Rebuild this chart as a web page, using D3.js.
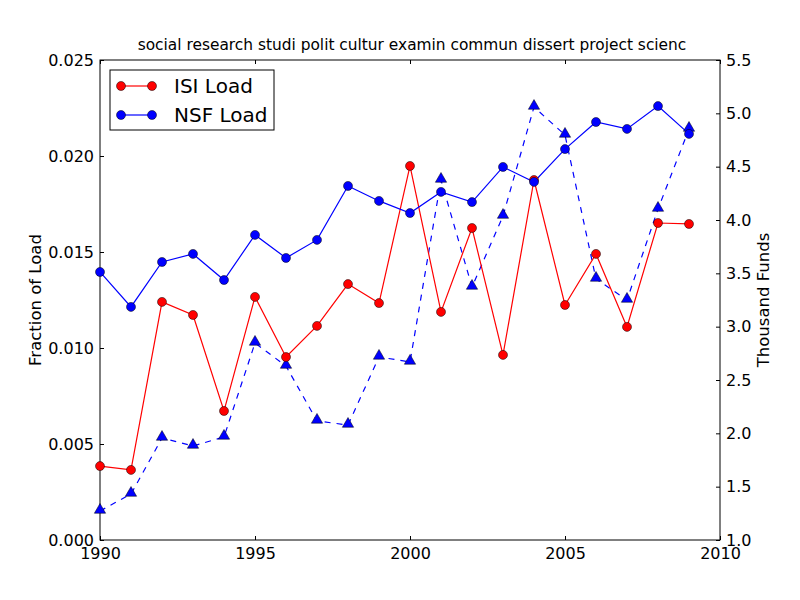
<!DOCTYPE html>
<html>
<head>
<meta charset="utf-8">
<script src="https://cdn.jsdelivr.net/npm/d3@7"></script>
<style>
  body { margin: 0; background: #fff; }
  text { font-family: "DejaVu Sans", sans-serif; }
</style>
</head>
<body>
<svg id="chart" width="800" height="600"></svg>
<script>
const years = d3.range(1990, 2010);
const isiLoad = [0.00385, 0.00365, 0.0124, 0.01172, 0.00672, 0.01266, 0.00953, 0.01115, 0.01333, 0.01234,
                 0.01948, 0.01188, 0.01625, 0.00964, 0.01875, 0.01224, 0.0149, 0.0111, 0.01651, 0.01646];
const nsfLoad = [0.01396, 0.01214, 0.01448, 0.0149, 0.01354, 0.01589, 0.01469, 0.01563, 0.01844, 0.01766,
                 0.01703, 0.01813, 0.0176, 0.01943, 0.01865, 0.02036, 0.02177, 0.02141, 0.0226, 0.02115];
const funds = [1.272, 1.431, 1.956, 1.881, 1.966, 2.847, 2.631, 2.116, 2.078, 2.716,
               2.669, 4.375, 3.372, 4.037, 5.059, 4.797, 3.447, 3.25, 4.103, 4.853];
const xTicks = [1990, 1995, 2000, 2005, 2010];
const leftTicks = [0, 0.005, 0.01, 0.015, 0.02, 0.025];
const rightTicks = [1.0, 1.5, 2.0, 2.5, 3.0, 3.5, 4.0, 4.5, 5.0, 5.5];
const title = "social research studi polit cultur examin commun dissert project scienc";

const m = { left: 100, right: 720, top: 60, bottom: 540 };
const svg = d3.select('#chart');

const x = d3.scaleLinear().domain([1990, 2010]).range([m.left, m.right]);
const yL = d3.scaleLinear().domain([0, 0.025]).range([m.bottom, m.top]);
const yR = d3.scaleLinear().domain([1.0, 5.5]).range([m.bottom, m.top]);

// axes (ticks inward, classic style)
const fontSize = 16;
const axB = svg.append('g').attr('transform', `translate(0,${m.bottom})`)
    .call(d3.axisBottom(x).tickValues(xTicks).tickFormat(d3.format('d')).tickSizeInner(-4).tickSizeOuter(0).tickPadding(8));
const axT = svg.append('g').attr('transform', `translate(0,${m.top})`)
    .call(d3.axisTop(x).tickValues(xTicks).tickFormat('').tickSizeInner(-4).tickSizeOuter(0));
const axL = svg.append('g').attr('transform', `translate(${m.left},0)`)
    .call(d3.axisLeft(yL).tickValues(leftTicks).tickFormat(d3.format('.3f')).tickSizeInner(-4).tickSizeOuter(0).tickPadding(6));
const axR = svg.append('g').attr('transform', `translate(${m.right},0)`)
    .call(d3.axisRight(yR).tickValues(rightTicks).tickFormat(d3.format('.1f')).tickSizeInner(-4).tickSizeOuter(0).tickPadding(6));
[axB, axT, axL, axR].forEach(a => {
    a.select('.domain').remove();
    a.selectAll('text').attr('font-size', fontSize).attr('fill', '#000');
    a.selectAll('line').attr('stroke', '#000');
});

// frame
svg.append('rect').attr('x', m.left).attr('y', m.top)
    .attr('width', m.right - m.left).attr('height', m.bottom - m.top)
    .attr('fill', 'none').attr('stroke', '#000').attr('stroke-width', 1);

// lines
const lineL = vals => d3.line().x((d, i) => x(years[i])).y(d => yL(d))(vals);
const lineR = d3.line().x((d, i) => x(years[i])).y(d => yR(d));

svg.append('path').attr('d', lineR(funds)).attr('fill', 'none')
    .attr('stroke', 'blue').attr('stroke-width', 1.2).attr('stroke-dasharray', '6,6');
svg.append('path').attr('d', lineL(isiLoad)).attr('fill', 'none')
    .attr('stroke', 'red').attr('stroke-width', 1.2);
svg.append('path').attr('d', lineL(nsfLoad)).attr('fill', 'none')
    .attr('stroke', 'blue').attr('stroke-width', 1.2);

const tri = d3.symbol().type(d3.symbolTriangle).size(55);
svg.append('g').selectAll('path').data(funds).join('path')
    .attr('d', tri)
    .attr('transform', (d, i) => `translate(${x(years[i])},${yR(d) - 1})`)
    .attr('fill', 'blue').attr('stroke', '#000').attr('stroke-width', 0.5);

svg.append('g').selectAll('circle').data(isiLoad).join('circle')
    .attr('cx', (d, i) => x(years[i])).attr('cy', d => yL(d)).attr('r', 4.5)
    .attr('fill', 'red').attr('stroke', '#000').attr('stroke-width', 0.5);
svg.append('g').selectAll('circle').data(nsfLoad).join('circle')
    .attr('cx', (d, i) => x(years[i])).attr('cy', d => yL(d)).attr('r', 4.5)
    .attr('fill', 'blue').attr('stroke', '#000').attr('stroke-width', 0.5);

// title and axis labels
svg.append('text').attr('x', (m.left + m.right) / 2 + 2).attr('y', 50)
    .attr('text-anchor', 'middle').attr('font-size', 15.4).text(title);
svg.append('text').attr('transform', `translate(41,${(m.top + m.bottom) / 2}) rotate(-90)`)
    .attr('text-anchor', 'middle').attr('font-size', 16.5).text('Fraction of Load');
svg.append('text').attr('transform', `translate(769,${(m.top + m.bottom) / 2}) rotate(-90)`)
    .attr('text-anchor', 'middle').attr('font-size', 16.5).text('Thousand Funds');

// legend
const lg = svg.append('g');
lg.append('rect').attr('x', 110).attr('y', 70).attr('width', 164).attr('height', 60)
    .attr('fill', '#fff').attr('stroke', '#000').attr('stroke-width', 1);
const entries = [{ name: 'ISI Load', color: 'red' }, { name: 'NSF Load', color: 'blue' }];
entries.forEach((e, i) => {
    const cy = 86 + i * 29;
    lg.append('line').attr('x1', 121).attr('x2', 152).attr('y1', cy).attr('y2', cy)
        .attr('stroke', e.color).attr('stroke-width', 1.2);
    [121, 152].forEach(cx => lg.append('circle').attr('cx', cx).attr('cy', cy).attr('r', 4.5)
        .attr('fill', e.color).attr('stroke', '#000').attr('stroke-width', 0.5));
    lg.append('text').attr('x', 174).attr('y', cy + 7).attr('font-size', 20).text(e.name);
});
</script>
</body>
</html>
